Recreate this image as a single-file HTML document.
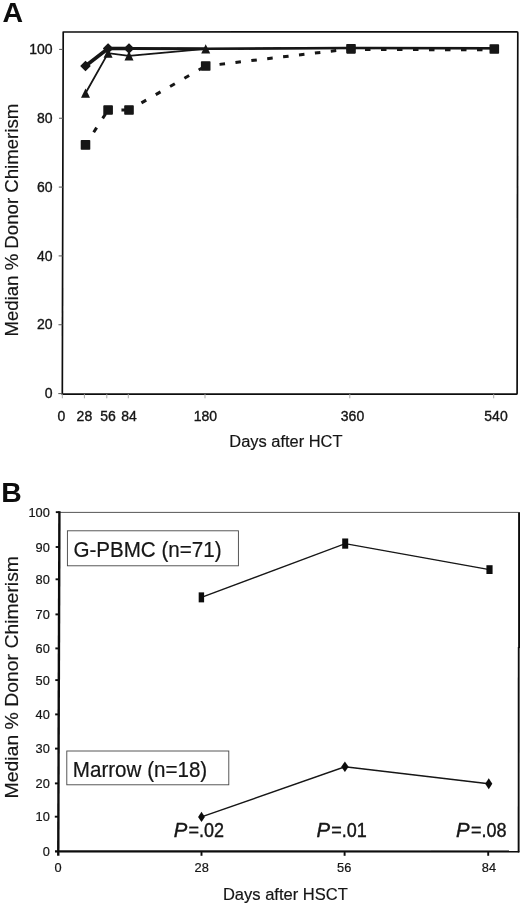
<!DOCTYPE html>
<html>
<head>
<meta charset="utf-8">
<title>Median % Donor Chimerism</title>
<style>
  html, body { margin: 0; padding: 0; background: #ffffff; }
  body { width: 520px; height: 905px; overflow: hidden; }
  svg { display: block; }
  text { font-family: "Liberation Sans", sans-serif; fill: #141414; }
  .ax { stroke: #141414; stroke-width: 0.18px; }
  .la { font-size: 14px; stroke: #141414; stroke-width: 0.35px; }
  .lb { font-size: 12.8px; stroke: #141414; stroke-width: 0.2px; }
  .panel { font-weight: bold; fill: #0a0a0a; }
  .leg { font-size: 20.6px; stroke: #141414; stroke-width: 0.2px; }
  .pv { font-size: 18px; stroke: #141414; stroke-width: 0.35px; }
  .pv tspan { font-style: italic; }
</style>
</head>
<body>
<svg id="fig" width="520" height="905" viewBox="0 0 520 905">
  <defs>
    <filter id="soft" x="-5%" y="-5%" width="110%" height="110%"><feGaussianBlur stdDeviation="0.45"/></filter>
  </defs>
  <rect x="0" y="0" width="520" height="905" fill="#ffffff"/>
  <g filter="url(#soft)">
  <!-- ================= PANEL A ================= -->
  <g id="panelA">
    <text class="panel" x="2.4" y="22.1" font-size="28.5">A</text>
    <path d="M63.2 32 L517 31.85 Q517.8 31.85 517.8 32.7 L517.1 393.4 Q517.1 394.2 516.3 394.2 L62.3 394.2 Z" fill="none" stroke="#111" stroke-width="1.7" stroke-linejoin="round"/>
    <g stroke="#555" stroke-width="1">
      <line x1="58.3" y1="393.6" x2="62.3" y2="393.6"/>
      <line x1="58.47" y1="324.76" x2="62.47" y2="324.76"/>
      <line x1="58.64" y1="255.92" x2="62.64" y2="255.92"/>
      <line x1="58.81" y1="187.08" x2="62.81" y2="187.08"/>
      <line x1="58.99" y1="118.24" x2="62.99" y2="118.24"/>
      <line x1="59.16" y1="49.4" x2="63.16" y2="49.4"/>
    </g>
    <g stroke="#aaa" stroke-width="1">
      <line x1="62.3" y1="394.2" x2="62.3" y2="398.3"/>
      <line x1="84.4" y1="394.2" x2="84.4" y2="398.3"/>
      <line x1="106.8" y1="394.2" x2="106.8" y2="398.3"/>
      <line x1="128.3" y1="394.2" x2="128.3" y2="398.3"/>
      <line x1="205" y1="394.2" x2="205" y2="398.3"/>
      <line x1="349.8" y1="394.2" x2="349.8" y2="398.3"/>
      <line x1="493.7" y1="394.2" x2="493.7" y2="398.3"/>
    </g>
    <g class="la" text-anchor="end">
      <text x="52.5" y="398.2">0</text>
      <text x="52.5" y="329.36">20</text>
      <text x="52.5" y="260.52">40</text>
      <text x="52.5" y="191.68">60</text>
      <text x="52.5" y="122.84">80</text>
      <text x="52.5" y="54">100</text>
    </g>
    <g class="la" text-anchor="middle">
      <text x="61.4" y="420.8">0</text>
      <text x="84.4" y="420.8">28</text>
      <text x="108" y="420.8">56</text>
      <text x="129" y="420.8">84</text>
      <text x="205.4" y="420.8">180</text>
      <text x="352.5" y="420.8">360</text>
      <text x="496" y="420.8">540</text>
    </g>
    <text class="ax" text-anchor="middle" font-size="18.63" transform="translate(18.4,220.2) rotate(-90) scale(1,0.96)">Median % Donor Chimerism</text>
    <text class="ax" text-anchor="middle" font-size="16.46" x="285.9" y="447">Days after HCT</text>
    <g fill="none" stroke="#141414" stroke-width="3">
      <line x1="85.5" y1="144.9" x2="108.1" y2="110" stroke-dasharray="5.5 11" stroke-dashoffset="1.45"/>
      <line x1="108.1" y1="110" x2="129" y2="110" stroke-dasharray="5.5 11" stroke-dashoffset="3.15"/>
      <line x1="129" y1="110" x2="205.7" y2="66" stroke-dasharray="5.5 11" stroke-dashoffset="2.15"/>
      <line x1="205.7" y1="66" x2="351" y2="48.85" stroke-dasharray="5.5 10.5" stroke-dashoffset="2.05"/>
      <line x1="351" y1="49.55" x2="494.3" y2="49.7" stroke-dasharray="5.5 10.5" stroke-dashoffset="2"/>
    </g>
    <polyline fill="none" stroke="#141414" stroke-width="1.8" points="85.5,93.2 108.1,53.1 129,55.8 205.7,48.85 351,48.2 494.3,48.4"/>
    <line x1="85.5" y1="66" x2="108.1" y2="48.5" stroke="#141414" stroke-width="3.5" stroke-linecap="round"/>
    <line x1="108.1" y1="48.5" x2="129" y2="48.5" stroke="#141414" stroke-width="3.3" stroke-linecap="round"/>
    <line x1="129" y1="48.5" x2="205.7" y2="48.7" stroke="#141414" stroke-width="2.9" stroke-linecap="round"/>
    <line x1="205.7" y1="48.7" x2="351" y2="48" stroke="#141414" stroke-width="2.5" stroke-linecap="round"/>
    <line x1="351" y1="48" x2="494.3" y2="48.3" stroke="#141414" stroke-width="2.5" stroke-linecap="round"/>
    <g fill="#141414">
      <rect x="80.7" y="140.1" width="9.6" height="9.6" rx="0.8"/>
      <rect x="103.3" y="105.2" width="9.6" height="9.6" rx="0.8"/>
      <rect x="124.2" y="105.2" width="9.6" height="9.6" rx="0.8"/>
      <rect x="200.9" y="61.2" width="9.6" height="9.6" rx="0.8"/>
      <rect x="346.2" y="44.05" width="9.6" height="9.6" rx="0.8"/>
      <rect x="489.5" y="44.2" width="9.6" height="9.6" rx="0.8"/>
      <path d="M85.5 88.5 L90 97.8 L81 97.8 Z"/>
      <path d="M108.1 48.4 L112.6 57.7 L103.6 57.7 Z"/>
      <path d="M129 51.1 L133.5 60.4 L124.5 60.4 Z"/>
      <path d="M205.7 44.15 L210.2 53.45 L201.2 53.45 Z"/>
      <path stroke="#141414" stroke-width="1.6" stroke-linejoin="round" d="M85.5 61.7 L89.8 66 L85.5 70.3 L81.2 66 Z"/>
      <path stroke="#141414" stroke-width="1.6" stroke-linejoin="round" d="M108.1 44.2 L112.4 48.5 L108.1 52.8 L103.8 48.5 Z"/>
      <path stroke="#141414" stroke-width="1.6" stroke-linejoin="round" d="M129 44.2 L133.3 48.5 L129 52.8 L124.7 48.5 Z"/>
    </g>
  </g>

  <!-- ================= PANEL B ================= -->
  <g id="panelB">
    <text class="panel" x="1.2" y="501.6" font-size="28.3">B</text>
    <line x1="59" y1="512.4" x2="518.5" y2="512.4" stroke="#555" stroke-width="1"/>
    <rect x="518.1" y="512.2" width="3" height="136" fill="#0a0a0a"/>
    <rect x="519.2" y="648" width="2" height="204" fill="#8a8a8a"/>
    <line x1="518.6" y1="647" x2="518.5" y2="852.5" stroke="#111" stroke-width="1.6"/>
    <line x1="59.4" y1="511.3" x2="58.25" y2="855.8" stroke="#0c0c0c" stroke-width="2.4"/>
    <line x1="55" y1="851.4" x2="519.3" y2="851.5" stroke="#0c0c0c" stroke-width="2.2"/>
    <g stroke="#0c0c0c" stroke-width="1.9">
      <line x1="54.81" y1="816.7" x2="58.41" y2="816.7"/>
      <line x1="54.92" y1="783.4" x2="58.52" y2="783.4"/>
      <line x1="55.03" y1="748.6" x2="58.63" y2="748.6"/>
      <line x1="55.15" y1="714.4" x2="58.75" y2="714.4"/>
      <line x1="55.26" y1="680.1" x2="58.86" y2="680.1"/>
      <line x1="55.36" y1="648.4" x2="58.96" y2="648.4"/>
      <line x1="55.47" y1="614.4" x2="59.07" y2="614.4"/>
      <line x1="55.58" y1="579.3" x2="59.18" y2="579.3"/>
      <line x1="55.69" y1="547" x2="59.29" y2="547"/>
      <line x1="55.8" y1="512.15" x2="59.4" y2="512.15"/>
      <line x1="201.5" y1="851.5" x2="201.5" y2="855.8"/>
      <line x1="344.6" y1="851.5" x2="344.6" y2="855.8"/>
      <line x1="488.2" y1="851.5" x2="488.2" y2="855.8"/>
    </g>
    <g class="lb" text-anchor="end">
      <text x="49.8" y="856.2">0</text>
      <text x="49.8" y="820.6">10</text>
      <text x="49.8" y="788.3">20</text>
      <text x="49.8" y="752.8">30</text>
      <text x="49.8" y="718.6">40</text>
      <text x="49.8" y="685.2">50</text>
      <text x="49.8" y="652.6">60</text>
      <text x="49.8" y="619">70</text>
      <text x="49.8" y="583.8">80</text>
      <text x="49.8" y="551.6">90</text>
      <text x="49.8" y="516.7">100</text>
    </g>
    <g class="lb" text-anchor="middle">
      <text x="58.1" y="872.3">0</text>
      <text x="201.7" y="872.3">28</text>
      <text x="344.2" y="872.3">56</text>
      <text x="488.9" y="872.3">84</text>
    </g>
    <text class="ax" text-anchor="middle" font-size="19.4" transform="translate(17.8,677.2) rotate(-90) scale(1,0.92)">Median % Donor Chimerism</text>
    <text class="ax" text-anchor="middle" font-size="16.55" x="285.4" y="900.4">Days after HSCT</text>
    <rect x="67.4" y="530.8" width="171" height="35" fill="#fff" stroke="#444" stroke-width="0.9"/>
    <text class="leg" transform="translate(73.4,556.9) scale(1,1.08)">G-PBMC (n=71)</text>
    <rect x="66.8" y="751" width="162" height="33.8" fill="#fff" stroke="#444" stroke-width="0.9"/>
    <text class="leg" transform="translate(72.8,777.2) scale(1,1.08)">Marrow (n=18)</text>
    <polyline fill="none" stroke="#141414" stroke-width="1.35" points="201.4,597.35 345.2,543.6 489.5,569.6"/>
    <polyline fill="none" stroke="#141414" stroke-width="1.35" points="201.5,816.9 344.9,766.8 488.75,783.75"/>
    <g fill="#0c0c0c">
      <rect x="198.7" y="592.35" width="5.4" height="10"/>
      <rect x="342.2" y="538.5" width="6" height="10.2"/>
      <rect x="486.45" y="565.2" width="6.1" height="8.8"/>
      <path d="M201.5 811.8 L204.9 816.9 L201.5 822 L198.1 816.9 Z"/>
      <path d="M344.9 761.5 L348.6 766.8 L344.9 772.1 L341.2 766.8 Z"/>
      <path d="M488.75 778.3 L492.3 783.75 L488.75 789.2 L485.2 783.75 Z"/>
    </g>
    <text class="pv" font-style="italic" transform="translate(173.65,837.4) scale(1.13,1.08)">P</text>
    <text class="pv" transform="translate(188.55,837.4) scale(1,1.08)">=.02</text>
    <text class="pv" font-style="italic" transform="translate(316.4,837.4) scale(1.13,1.08)">P</text>
    <text class="pv" transform="translate(331.3,837.4) scale(1,1.08)">=.01</text>
    <text class="pv" font-style="italic" transform="translate(456.1,837.4) scale(1.13,1.08)">P</text>
    <text class="pv" transform="translate(471,837.4) scale(1,1.08)">=.08</text>
  </g>
  </g>
</svg>
</body>
</html>
